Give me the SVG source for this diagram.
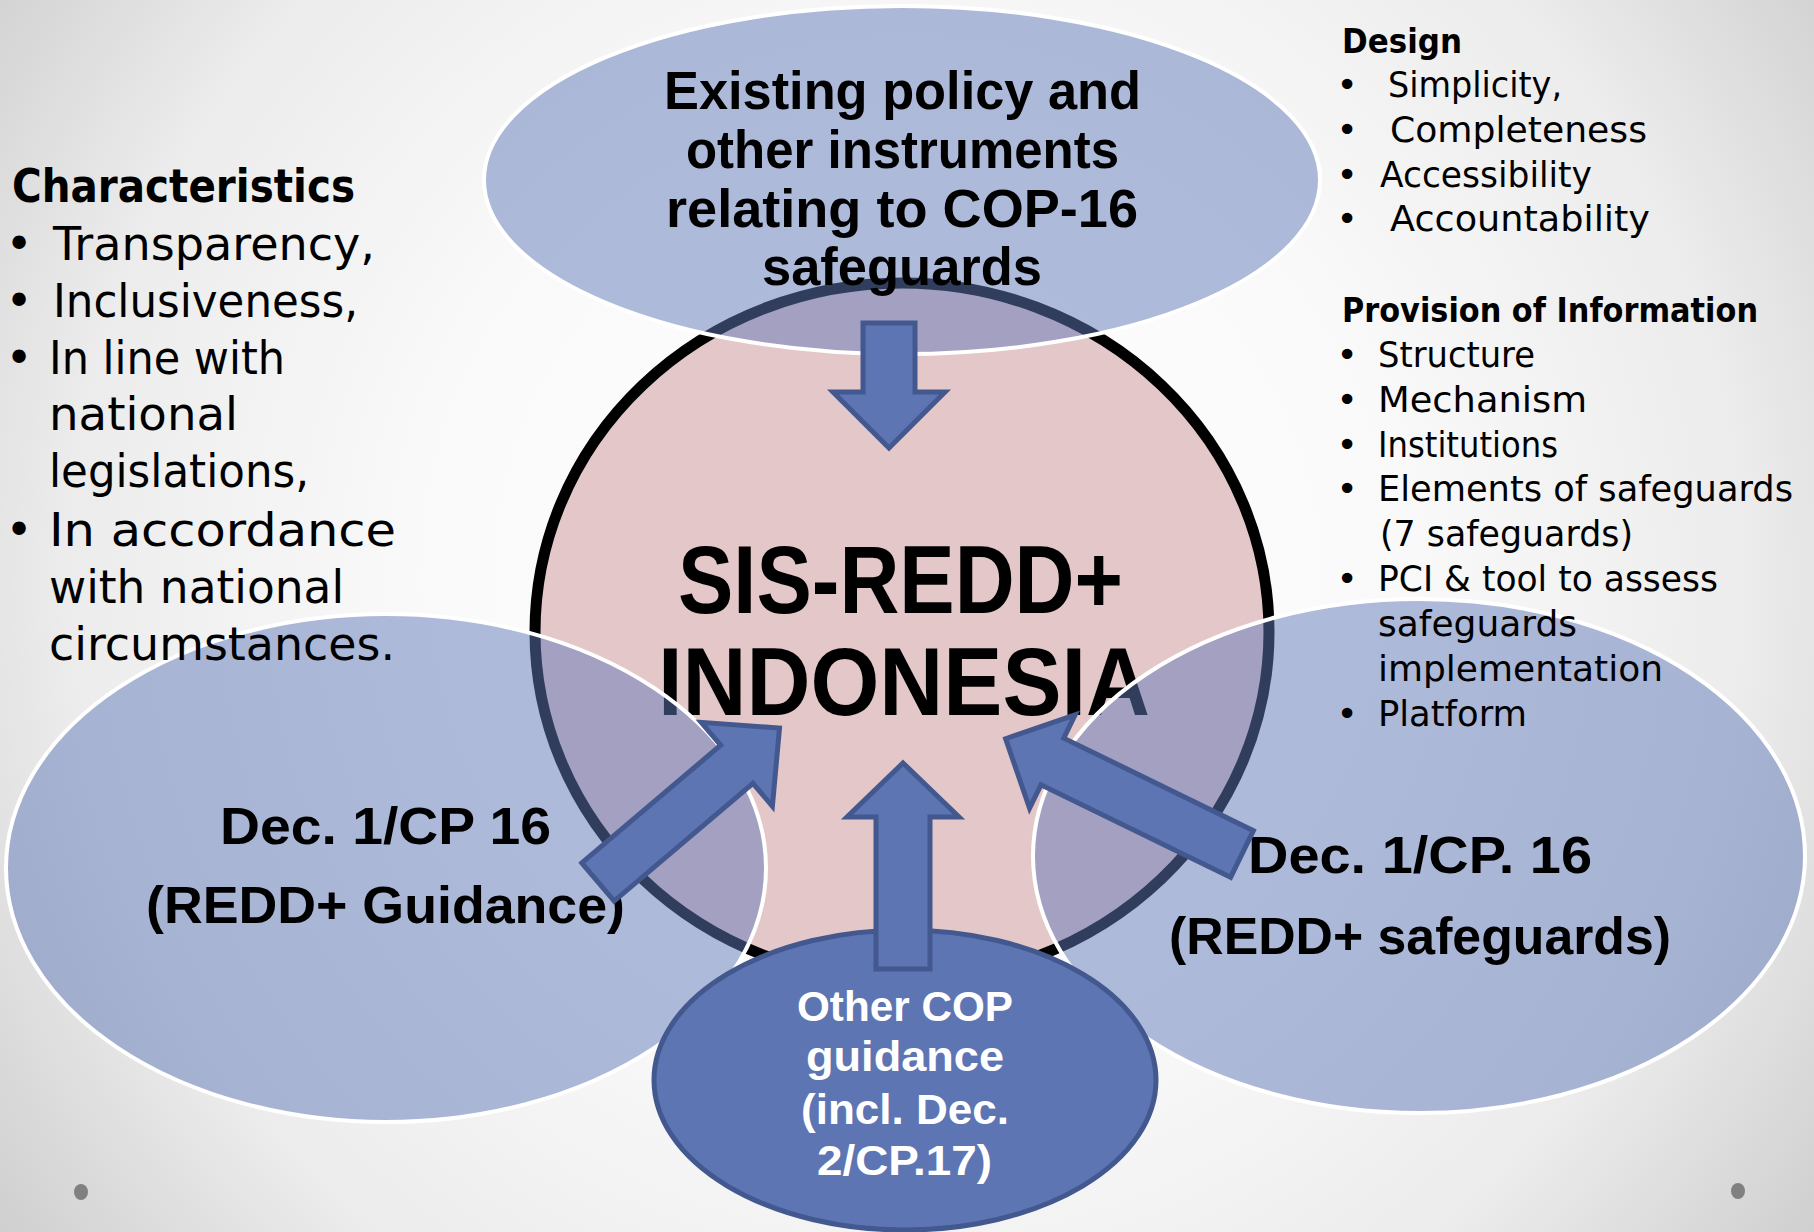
<svg xmlns="http://www.w3.org/2000/svg" width="1814" height="1232" viewBox="0 0 1814 1232">
<defs>
<radialGradient id="bg" gradientUnits="userSpaceOnUse" cx="907" cy="580" r="1120">
<stop offset="0" stop-color="#ffffff"/>
<stop offset="0.45" stop-color="#f9f9f9"/>
<stop offset="0.75" stop-color="#ececec"/>
<stop offset="1" stop-color="#cfcfcf"/>
</radialGradient>
<style>
.soft{fill:#627aba;fill-opacity:0.5;stroke:#ffffff;stroke-width:4}
.solid{fill:#5e75b3;stroke:#42588f;stroke-width:5;stroke-linejoin:miter}
.hb{font-family:"Liberation Sans",Arial,sans-serif;font-weight:bold;fill:#000}
.hw{font-family:"Liberation Sans",Arial,sans-serif;font-weight:bold;fill:#ffffff}
.lb{font-family:"DejaVu Sans","Liberation Sans",sans-serif;font-weight:bold;fill:#000}
.lr{font-family:"DejaVu Sans","Liberation Sans",sans-serif;fill:#000}
.dot{fill:#808080}
</style>
</defs>
<rect x="0" y="0" width="1814" height="1232" fill="url(#bg)"/>
<ellipse class="dot" cx="81" cy="1192" rx="7" ry="8"/>
<ellipse class="dot" cx="1738" cy="1191" rx="7" ry="8"/>

<g id="center">
<ellipse cx="902" cy="632" rx="367" ry="349" fill="#e4c7c8" stroke="#000" stroke-width="11"/>
<text class="hb" x="678" y="613" font-size="97" textLength="445" lengthAdjust="spacingAndGlyphs">SIS-REDD+</text>
<text class="hb" x="658" y="715" font-size="97" textLength="492" lengthAdjust="spacingAndGlyphs">INDONESIA</text>
</g>

<g id="existing-policy">
<ellipse class="soft" cx="902" cy="180" rx="418" ry="174"/>
<text class="hb" x="664" y="109" font-size="54" textLength="477" lengthAdjust="spacingAndGlyphs">Existing policy and</text>
<text class="hb" x="686" y="168" font-size="54" textLength="433" lengthAdjust="spacingAndGlyphs">other instruments</text>
<text class="hb" x="666" y="227" font-size="54" textLength="472" lengthAdjust="spacingAndGlyphs">relating to COP-16</text>
<text class="hb" x="762" y="285" font-size="54" textLength="280" lengthAdjust="spacingAndGlyphs">safeguards</text>
</g>

<g id="redd-guidance">
<ellipse class="soft" cx="386" cy="868" rx="380" ry="254"/>
<text class="hb" x="220" y="844" font-size="52" textLength="331" lengthAdjust="spacingAndGlyphs">Dec. 1/CP 16</text>
<text class="hb" x="146" y="923" font-size="52" textLength="479" lengthAdjust="spacingAndGlyphs">(REDD+ Guidance)</text>
</g>

<g id="redd-safeguards">
<ellipse class="soft" cx="1419" cy="856" rx="386" ry="257"/>
<text class="hb" x="1248" y="873" font-size="52" textLength="344" lengthAdjust="spacingAndGlyphs">Dec. 1/CP. 16</text>
<text class="hb" x="1169" y="954" font-size="52" textLength="502" lengthAdjust="spacingAndGlyphs">(REDD+ safeguards)</text>
</g>

<g id="other-cop">
<ellipse class="solid" cx="905" cy="1080" rx="251" ry="150"/>
<text class="hw" x="797" y="1021" font-size="42" textLength="216" lengthAdjust="spacingAndGlyphs">Other COP</text>
<text class="hw" x="806" y="1071" font-size="42" textLength="198" lengthAdjust="spacingAndGlyphs">guidance</text>
<text class="hw" x="801" y="1124" font-size="42" textLength="208" lengthAdjust="spacingAndGlyphs">(incl. Dec.</text>
<text class="hw" x="817" y="1175" font-size="42" textLength="175" lengthAdjust="spacingAndGlyphs">2/CP.17)</text>
</g>

<g id="connectors">
<polygon class="solid" points="863,323 915,323 915,392 945,392 889,448 833,392 863,392"/>
<polygon class="solid" points="903,763 959,817 930,817 930,969 876,969 876,817 847,817"/>
<polygon class="solid" transform="translate(598,882) rotate(-40.3)" points="0,-25 182,-25 182,-55 238,0 182,55 182,25 0,25"/>
<polygon class="solid" transform="translate(1242,854) rotate(206)" points="0,-26 211,-26 211,-52 263,0 211,52 211,26 0,26"/>
</g>

<g id="characteristics">
<text class="lb" x="12" y="202" font-size="46" textLength="343" lengthAdjust="spacingAndGlyphs">Characteristics</text>
<text class="lr" x="19" y="260" font-size="46" text-anchor="middle">•</text>
<text class="lr" x="53" y="260" font-size="46" textLength="322" lengthAdjust="spacingAndGlyphs">Transparency,</text>
<text class="lr" x="19" y="317" font-size="46" text-anchor="middle">•</text>
<text class="lr" x="53" y="317" font-size="46" textLength="305" lengthAdjust="spacingAndGlyphs">Inclusiveness,</text>
<text class="lr" x="19" y="374" font-size="46" text-anchor="middle">•</text>
<text class="lr" x="49" y="374" font-size="46" textLength="236" lengthAdjust="spacingAndGlyphs">In line with</text>
<text class="lr" x="49" y="430" font-size="46" textLength="189" lengthAdjust="spacingAndGlyphs">national</text>
<text class="lr" x="49" y="487" font-size="46" textLength="260" lengthAdjust="spacingAndGlyphs">legislations,</text>
<text class="lr" x="19" y="546" font-size="46" text-anchor="middle">•</text>
<text class="lr" x="49" y="546" font-size="46" textLength="347" lengthAdjust="spacingAndGlyphs">In accordance</text>
<text class="lr" x="49" y="603" font-size="46" textLength="295" lengthAdjust="spacingAndGlyphs">with national</text>
<text class="lr" x="49" y="660" font-size="46" textLength="346" lengthAdjust="spacingAndGlyphs">circumstances.</text>
</g>

<g id="design-provision">
<text class="lb" x="1342" y="53" font-size="33" textLength="120" lengthAdjust="spacingAndGlyphs">Design</text>
<text class="lr" x="1347" y="97" font-size="36" text-anchor="middle">•</text>
<text class="lr" x="1388" y="97" font-size="36" textLength="174" lengthAdjust="spacingAndGlyphs">Simplicity,</text>
<text class="lr" x="1347" y="142" font-size="36" text-anchor="middle">•</text>
<text class="lr" x="1390" y="142" font-size="36" textLength="257" lengthAdjust="spacingAndGlyphs">Completeness</text>
<text class="lr" x="1347" y="187" font-size="36" text-anchor="middle">•</text>
<text class="lr" x="1380" y="187" font-size="36" textLength="212" lengthAdjust="spacingAndGlyphs">Accessibility</text>
<text class="lr" x="1347" y="231" font-size="36" text-anchor="middle">•</text>
<text class="lr" x="1390" y="231" font-size="36" textLength="260" lengthAdjust="spacingAndGlyphs">Accountability</text>
<text class="lb" x="1342" y="322" font-size="33" textLength="416" lengthAdjust="spacingAndGlyphs">Provision of Information</text>
<text class="lr" x="1347" y="367" font-size="36" text-anchor="middle">•</text>
<text class="lr" x="1378" y="367" font-size="36" textLength="157" lengthAdjust="spacingAndGlyphs">Structure</text>
<text class="lr" x="1347" y="412" font-size="36" text-anchor="middle">•</text>
<text class="lr" x="1378" y="412" font-size="36" textLength="209" lengthAdjust="spacingAndGlyphs">Mechanism</text>
<text class="lr" x="1347" y="457" font-size="36" text-anchor="middle">•</text>
<text class="lr" x="1378" y="457" font-size="36" textLength="180" lengthAdjust="spacingAndGlyphs">Institutions</text>
<text class="lr" x="1347" y="501" font-size="36" text-anchor="middle">•</text>
<text class="lr" x="1378" y="501" font-size="36" textLength="415" lengthAdjust="spacingAndGlyphs">Elements of safeguards</text>
<text class="lr" x="1380" y="546" font-size="36" textLength="253" lengthAdjust="spacingAndGlyphs">(7 safeguards)</text>
<text class="lr" x="1347" y="591" font-size="36" text-anchor="middle">•</text>
<text class="lr" x="1378" y="591" font-size="36" textLength="340" lengthAdjust="spacingAndGlyphs">PCI &amp; tool to assess</text>
<text class="lr" x="1378" y="636" font-size="36" textLength="199" lengthAdjust="spacingAndGlyphs">safeguards</text>
<text class="lr" x="1378" y="681" font-size="36" textLength="285" lengthAdjust="spacingAndGlyphs">implementation</text>
<text class="lr" x="1347" y="726" font-size="36" text-anchor="middle">•</text>
<text class="lr" x="1378" y="726" font-size="36" textLength="149" lengthAdjust="spacingAndGlyphs">Platform</text>
</g>
</svg>
